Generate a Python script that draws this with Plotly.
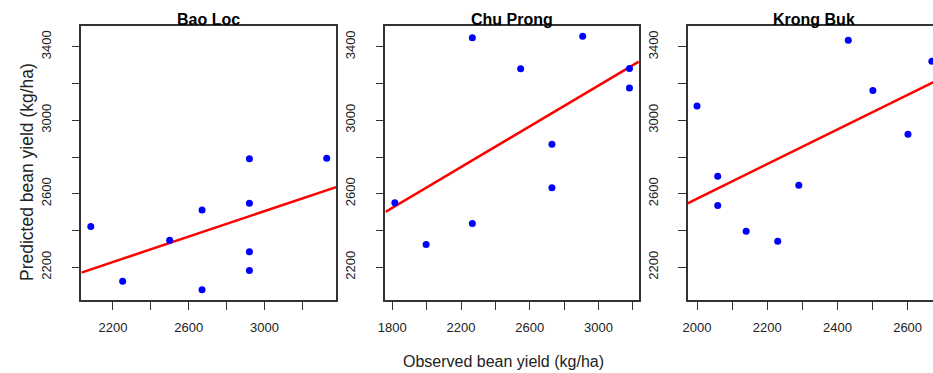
import numpy as np
import plotly.graph_objects as go

# ---- data ----
sites = ["Bao Loc", "Chu Prong", "Krong Buk"]

bao_loc_obs = [2083, 2251, 2499, 2670, 2670, 2920, 2920, 2920, 2920, 3328]
bao_loc_pred = [2422, 2124, 2347, 2511, 2077, 2791, 2549, 2284, 2182, 2794]

chu_prong_obs = [1815, 1997, 2266, 2266, 2547, 2729, 2729, 2908, 3180, 3180]
chu_prong_pred = [2551, 2324, 3449, 2438, 3280, 2869, 2633, 3458, 3282, 3176]

krong_buk_obs = [2000, 2059, 2059, 2140, 2230, 2290, 2431, 2501, 2601, 2669]
krong_buk_pred = [3078, 2696, 2536, 2396, 2342, 2647, 3436, 3162, 2924, 3322]

x_tick_vals = [
    [2200, 2400, 2600, 2800, 3000, 3200],
    [1800, 2000, 2200, 2400, 2600, 2800, 3000, 3200],
    [2000, 2100, 2200, 2300, 2400, 2500, 2600],
]
x_tick_text = [
    ["2200", "", "2600", "", "3000", ""],
    ["1800", "", "2200", "", "2600", "", "3000", ""],
    ["2000", "", "2200", "", "2400", "", "2600"],
]
y_tick_vals = [2200, 2400, 2600, 2800, 3000, 3200, 3400]
y_tick_text = ["2200", "", "2600", "", "3000", "", "3400"]

x_title = "Observed bean yield (kg/ha)"
y_title = "Predicted bean yield (kg/ha)"

obs = [bao_loc_obs, chu_prong_obs, krong_buk_obs]
pred = [bao_loc_pred, chu_prong_pred, krong_buk_pred]

# ---- layout geometry (pixels) ----
W, H = 933, 373
box_left = [74.0, 380.7, 685.5]
box_right = [331.0, 636.3, 941.3]   # third panel runs past the window edge
box_top, box_bottom = 26.0, 300.0

FONT = "Liberation Sans, Arial, Helvetica, sans-serif"
AX = "#333333"


def r_range(v):
    lo, hi = min(v), max(v)
    pad = 0.04 * (hi - lo)
    return [lo - pad, hi + pad]


all_pred = [p for ps in pred for p in ps]
y_range = r_range(all_pred)

fig = go.Figure()
layout = dict()

for i in range(3):
    xr = r_range(obs[i])
    left, right = box_left[i], box_right[i]
    vis_right = min(right, W)
    frac = (vis_right - left) / (right - left)
    xr_vis = [xr[0], xr[0] + frac * (xr[1] - xr[0])]
    dom = [left / W, vis_right / W]

    xa = "x" if i == 0 else f"x{i+1}"
    ya = "y" if i == 0 else f"y{i+1}"

    slope, intercept = np.polyfit(obs[i], pred[i], 1)
    lx = np.array(xr)
    fig.add_trace(go.Scatter(
        x=lx, y=intercept + slope * lx, mode="lines",
        line=dict(color="#FF0000", width=2.5),
        xaxis=xa, yaxis=ya, showlegend=False, hoverinfo="skip"))
    fig.add_trace(go.Scatter(
        x=obs[i], y=pred[i], mode="markers",
        marker=dict(color="#0000FF", size=7),
        xaxis=xa, yaxis=ya, showlegend=False))

    xkey = "xaxis" if i == 0 else f"xaxis{i+1}"
    ykey = "yaxis" if i == 0 else f"yaxis{i+1}"
    layout[xkey] = dict(
        domain=dom, range=xr_vis, anchor=ya,
        tickmode="array", tickvals=x_tick_vals[i], ticktext=x_tick_text[i],
        ticks="outside", ticklen=8, tickwidth=1.3, tickcolor=AX,
        ticklabelstandoff=7,
        showline=True, linecolor=AX, linewidth=1.5, mirror=True,
        showgrid=False, zeroline=False,
        tickfont=dict(family=FONT, size=13, color="#222222"),
    )
    layout[ykey] = dict(
        domain=[(H - box_bottom) / H, (H - box_top) / H], range=y_range,
        anchor=xa,
        tickmode="array", tickvals=y_tick_vals, ticktext=y_tick_text,
        tickangle=-90,
        ticks="outside", ticklen=8, tickwidth=1.3, tickcolor=AX,
        ticklabelstandoff=15,
        showline=True, linecolor=AX, linewidth=1.5, mirror=(i < 2),
        showgrid=False, zeroline=False,
        tickfont=dict(family=FONT, size=13, color="#222222"),
    )

annotations = []
for i in range(3):
    cx = (box_left[i] + box_right[i]) / 2
    annotations.append(dict(
        text="<b>%s</b>" % sites[i], x=cx / W, y=(H - 19.4) / H,
        xref="paper", yref="paper", xanchor="center", yanchor="middle",
        showarrow=False, font=dict(family=FONT, size=16, color="#000000")))
annotations.append(dict(
    text=x_title, x=500 / W, y=(H - 361) / H, xref="paper", yref="paper",
    xanchor="center", yanchor="middle", showarrow=False,
    font=dict(family=FONT, size=16, color="#222222")))
annotations.append(dict(
    text=y_title, x=18.5 / W, y=(H - 171.7) / H, xref="paper", yref="paper",
    xanchor="center", yanchor="middle", textangle=-90, showarrow=False,
    font=dict(family=FONT, size=17.5, color="#222222")))

fig.update_layout(
    width=W, height=H,
    margin=dict(l=0, r=0, t=0, b=0),
    paper_bgcolor="white", plot_bgcolor="white",
    annotations=annotations,
    **layout,
)

fig.write_html("out.html")
